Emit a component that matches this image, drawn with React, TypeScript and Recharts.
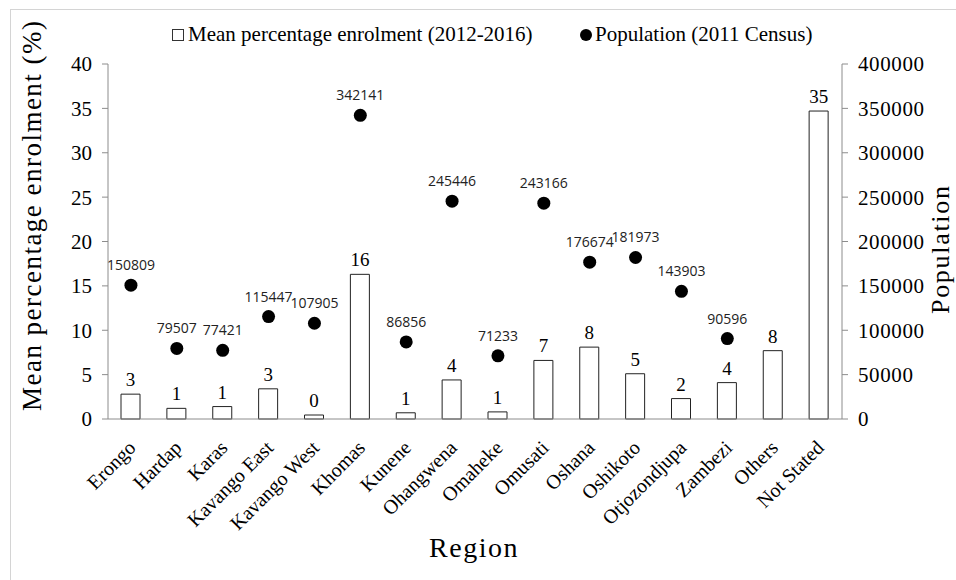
import { Bar, ComposedChart, LabelList, Line, XAxis, YAxis } from "recharts";

const regions = [
  "Erongo",
  "Hardap",
  "Karas",
  "Kavango East",
  "Kavango West",
  "Khomas",
  "Kunene",
  "Ohangwena",
  "Omaheke",
  "Omusati",
  "Oshana",
  "Oshikoto",
  "Otjozondjupa",
  "Zambezi",
  "Others",
  "Not Stated",
];

const enrolment = [2.8, 1.2, 1.4, 3.4, 0.45, 16.3, 0.7, 4.4, 0.8, 6.6, 8.1, 5.1, 2.3, 4.1, 7.7, 34.7];

const population = [
  150809, 79507, 77421, 115447, 107905, 342141, 86856, 245446, 71233, 243166,
  176674, 181973, 143903, 90596, null, null,
];

const leftTicks = [0, 5, 10, 15, 20, 25, 30, 35, 40];
const rightTicks = [0, 50000, 100000, 150000, 200000, 250000, 300000, 350000, 400000];
const bandTicks = Array.from({ length: regions.length + 1 }, (_, i) => i);

// pos = middle of each category slot on the numeric (tick) axis
const data = regions.map((name, i) => ({
  name,
  pos: i + 0.5,
  enrolment: enrolment[i],
  population: population[i],
}));

const serif = "'Liberation Serif', 'Times New Roman', serif";
const axisGrey = "#8c8c8c";

function RegionTick({ x, y, payload }: any) {
  const tx = x + 6;
  const ty = y + 27;
  return (
    <text
      x={tx}
      y={ty}
      transform={`rotate(-45, ${tx}, ${ty})`}
      textAnchor="end"
      fontFamily={serif}
      fontSize={20}
      fill="#000"
    >
      {payload.value}
    </text>
  );
}

export default function App() {
  return (
    <div
      style={{
        position: "absolute",
        left: 0,
        top: 0,
        width: 956,
        height: 580,
        background: "#fff",
        overflow: "hidden",
      }}
    >
      <div
        style={{
          position: "absolute",
          left: 10,
          top: 9,
          width: 960,
          height: 590,
          border: "1px solid #d4d4d4",
        }}
      />
      <div
        style={{
          position: "absolute",
          top: 22,
          left: 172,
          fontFamily: serif,
          fontSize: 21,
          whiteSpace: "nowrap",
          display: "flex",
          alignItems: "center",
        }}
      >
        <span
          style={{
            display: "inline-block",
            width: 10,
            height: 10,
            border: "1px solid #333",
            marginRight: 4,
          }}
        />
        <span>Mean percentage enrolment (2012-2016)</span>
      </div>
      <div
        style={{
          position: "absolute",
          top: 22,
          left: 580,
          fontFamily: serif,
          fontSize: 21,
          whiteSpace: "nowrap",
          display: "flex",
          alignItems: "center",
        }}
      >
        <span
          style={{
            display: "inline-block",
            width: 12,
            height: 12,
            borderRadius: 6,
            background: "#000",
            marginRight: 3,
          }}
        />
        <span>Population (2011 Census)</span>
      </div>
      <ComposedChart
        width={956}
        height={580}
        data={data}
        margin={{ top: 64, right: 0, bottom: 0, left: 0 }}
        style={{ position: "absolute", left: 0, top: 0 }}
      >
        <XAxis
          xAxisId="b"
          dataKey="name"
          interval={0}
          height={160}
          axisLine={false}
          tickLine={false}
          tickSize={0}
          tick={<RegionTick />}
        />
        <XAxis
          xAxisId="a"
          type="number"
          dataKey="pos"
          domain={[0, 16]}
          allowDataOverflow
          ticks={bandTicks}
          interval={0}
          tick={false}
          tickLine={{ stroke: axisGrey }}
          tickSize={7}
          height={1}
          stroke={axisGrey}
        />
        <YAxis
          yAxisId="left"
          width={108}
          domain={[0, 40]}
          ticks={leftTicks}
          tickSize={6}
          tickMargin={10}
          stroke={axisGrey}
          tick={{ fill: "#000", fontFamily: serif, fontSize: 21 }}
        />
        <YAxis
          yAxisId="right"
          orientation="right"
          width={114}
          domain={[0, 400000]}
          ticks={rightTicks}
          tickSize={6}
          tickMargin={10}
          stroke={axisGrey}
          tick={{ fill: "#000", fontFamily: serif, fontSize: 21, letterSpacing: 0.6, textAnchor: "start" }}
        />
        <Bar
          xAxisId="b"
          yAxisId="left"
          dataKey="enrolment"
          barSize={19}
          fill="#fff"
          stroke="#222"
          strokeWidth={1}
          isAnimationActive={false}
        >
          <LabelList
            dataKey="enrolment"
            position="top"
            offset={8}
            formatter={(v: any) => Math.round(Number(v))}
            style={{ fontFamily: serif, fontSize: 19, fill: "#000" }}
          />
        </Bar>
        <Line
          xAxisId="a"
          yAxisId="right"
          dataKey="population"
          stroke="none"
          connectNulls={false}
          dot={{ r: 6.5, fill: "#000", stroke: "#000", strokeWidth: 0 }}
          activeDot={false}
          isAnimationActive={false}
        >
          <LabelList
            dataKey="population"
            position="top"
            offset={15}
            style={{ fontFamily: "'Open Sans', sans-serif", fontSize: 14, fill: "#222" }}
          />
        </Line>
        <text
          x={32}
          y={216}
          transform="rotate(-90, 32, 216)"
          textAnchor="middle"
          dominantBaseline="central"
          fontFamily={serif}
          fontSize={27}
          textLength={390}
          lengthAdjust="spacing"
          fill="#000"
        >
          Mean percentage enrolment  (%)
        </text>
        <text
          x={940}
          y={250}
          transform="rotate(-90, 940, 250)"
          textAnchor="middle"
          dominantBaseline="central"
          fontFamily={serif}
          fontSize={26}
          textLength={128}
          lengthAdjust="spacing"
          fill="#000"
        >
          Population
        </text>
        <text
          x={474}
          y={557}
          textAnchor="middle"
          fontFamily={serif}
          fontSize={28}
          letterSpacing={1.5}
          fill="#000"
        >
          Region
        </text>
      </ComposedChart>
    </div>
  );
}
